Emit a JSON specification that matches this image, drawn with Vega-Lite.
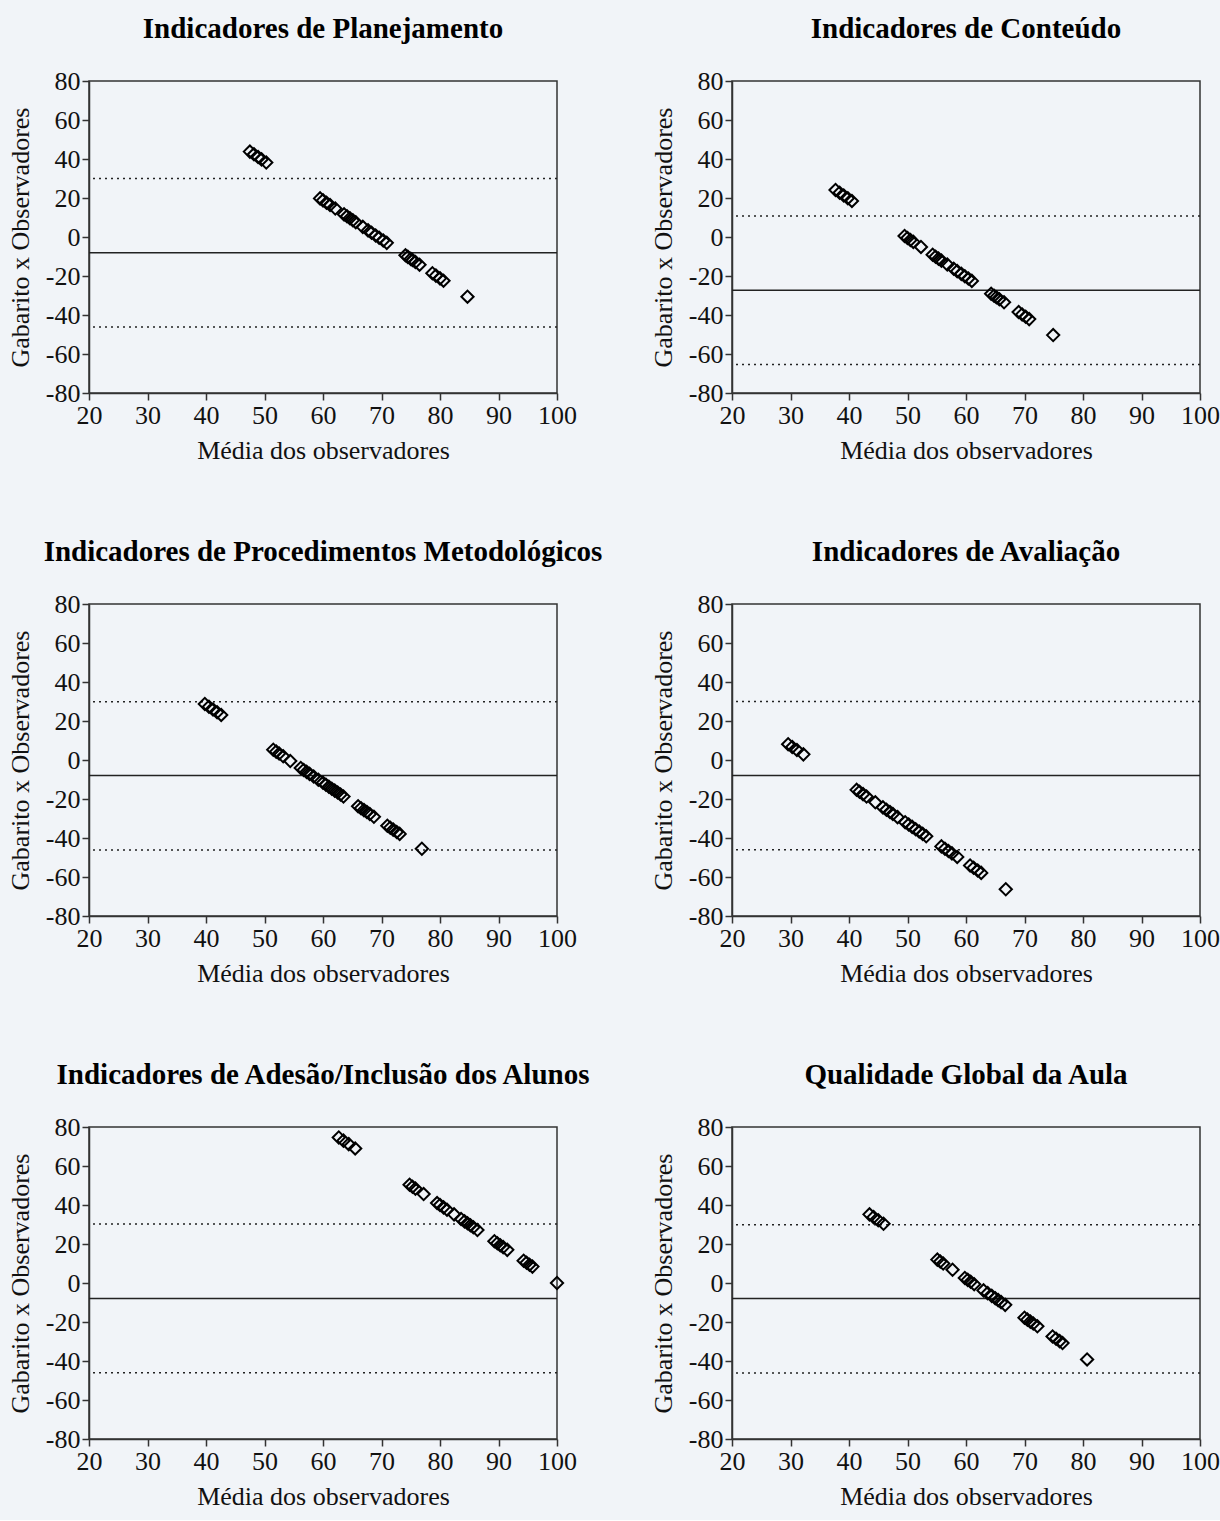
{
  "$schema": "https://vega.github.io/schema/vega-lite/v6.json",
  "background": "#f1f4f8",
  "padding": {"left": 6, "top": 14, "right": 2, "bottom": 10},
  "columns": 2,
  "spacing": {"row": 211, "column": 175},
  "bounds": "flush",
  "datasets": {
    "lines": [
      {"p": 1, "v": -8.1, "k": "media"}, {"p": 1, "v": 30.0, "k": "limite"}, {"p": 1, "v": -46.1, "k": "limite"},
      {"p": 2, "v": -27.3, "k": "media"}, {"p": 2, "v": 10.8, "k": "limite"}, {"p": 2, "v": -65.4, "k": "limite"},
      {"p": 3, "v": -8.0, "k": "media"}, {"p": 3, "v": 29.9, "k": "limite"}, {"p": 3, "v": -46.1, "k": "limite"},
      {"p": 4, "v": -7.9, "k": "media"}, {"p": 4, "v": 30.0, "k": "limite"}, {"p": 4, "v": -46.0, "k": "limite"},
      {"p": 5, "v": -8.0, "k": "media"}, {"p": 5, "v": 30.2, "k": "limite"}, {"p": 5, "v": -46.0, "k": "limite"},
      {"p": 6, "v": -8.0, "k": "media"}, {"p": 6, "v": 29.9, "k": "limite"}, {"p": 6, "v": -46.1, "k": "limite"}
    ],
    "pts": [
      {"p":1,"x":47.5,"y":43.8},{"p":1,"x":48.2,"y":42.4},{"p":1,"x":48.9,"y":41.0},{"p":1,"x":49.5,"y":39.8},{"p":1,"x":50.3,"y":38.2},
      {"p":1,"x":59.5,"y":19.8},{"p":1,"x":60.0,"y":18.8},{"p":1,"x":60.6,"y":17.6},{"p":1,"x":61.2,"y":16.4},{"p":1,"x":62.1,"y":14.6},
      {"p":1,"x":63.6,"y":11.6},{"p":1,"x":64.1,"y":10.6},{"p":1,"x":64.6,"y":9.6},{"p":1,"x":65.1,"y":8.6},{"p":1,"x":65.6,"y":7.6},{"p":1,"x":66.8,"y":5.2},
      {"p":1,"x":67.7,"y":3.4},{"p":1,"x":68.3,"y":2.2},{"p":1,"x":69.0,"y":0.8},{"p":1,"x":69.6,"y":-0.4},{"p":1,"x":70.3,"y":-1.8},{"p":1,"x":70.9,"y":-3.0},
      {"p":1,"x":74.1,"y":-9.4},{"p":1,"x":74.5,"y":-10.2},{"p":1,"x":75.0,"y":-11.2},{"p":1,"x":75.3,"y":-11.8},{"p":1,"x":75.8,"y":-12.8},{"p":1,"x":76.5,"y":-14.2},
      {"p":1,"x":78.7,"y":-18.6},{"p":1,"x":79.3,"y":-19.8},{"p":1,"x":80.0,"y":-21.2},{"p":1,"x":80.6,"y":-22.4},
      {"p":1,"x":84.7,"y":-30.6},

      {"p":2,"x":37.7,"y":24.1},{"p":2,"x":38.4,"y":22.7},{"p":2,"x":39.1,"y":21.3},{"p":2,"x":39.8,"y":19.9},{"p":2,"x":40.5,"y":18.5},
      {"p":2,"x":49.5,"y":0.5},{"p":2,"x":50.0,"y":-0.5},{"p":2,"x":50.5,"y":-1.5},{"p":2,"x":51.0,"y":-2.5},{"p":2,"x":52.3,"y":-5.1},
      {"p":2,"x":54.3,"y":-9.1},{"p":2,"x":54.8,"y":-10.1},{"p":2,"x":55.3,"y":-11.1},{"p":2,"x":55.8,"y":-12.1},{"p":2,"x":56.8,"y":-14.1},
      {"p":2,"x":57.9,"y":-16.3},{"p":2,"x":58.5,"y":-17.5},{"p":2,"x":59.2,"y":-18.9},{"p":2,"x":59.8,"y":-20.1},{"p":2,"x":60.4,"y":-21.3},{"p":2,"x":61.0,"y":-22.5},
      {"p":2,"x":64.3,"y":-29.1},{"p":2,"x":64.8,"y":-30.1},{"p":2,"x":65.2,"y":-30.9},{"p":2,"x":65.7,"y":-31.9},{"p":2,"x":66.5,"y":-33.5},
      {"p":2,"x":69.0,"y":-38.5},{"p":2,"x":69.6,"y":-39.7},{"p":2,"x":70.2,"y":-40.9},{"p":2,"x":70.8,"y":-42.1},
      {"p":2,"x":74.9,"y":-50.3},

      {"p":3,"x":39.8,"y":28.7},{"p":3,"x":40.5,"y":27.3},{"p":3,"x":41.2,"y":25.9},{"p":3,"x":41.9,"y":24.5},{"p":3,"x":42.6,"y":23.1},
      {"p":3,"x":51.5,"y":5.3},{"p":3,"x":52.0,"y":4.3},{"p":3,"x":52.5,"y":3.3},{"p":3,"x":53.2,"y":1.9},{"p":3,"x":54.4,"y":-0.5},
      {"p":3,"x":56.2,"y":-4.1},{"p":3,"x":56.7,"y":-5.1},{"p":3,"x":57.2,"y":-6.1},{"p":3,"x":57.7,"y":-7.1},{"p":3,"x":58.4,"y":-8.5},{"p":3,"x":59.2,"y":-10.1},
      {"p":3,"x":60.0,"y":-11.7},{"p":3,"x":60.5,"y":-12.7},{"p":3,"x":61.0,"y":-13.7},{"p":3,"x":61.5,"y":-14.7},{"p":3,"x":62.0,"y":-15.7},{"p":3,"x":62.5,"y":-16.7},{"p":3,"x":63.0,"y":-17.7},{"p":3,"x":63.5,"y":-18.7},
      {"p":3,"x":66.0,"y":-23.7},{"p":3,"x":66.5,"y":-24.7},{"p":3,"x":67.0,"y":-25.7},{"p":3,"x":67.5,"y":-26.7},{"p":3,"x":68.0,"y":-27.7},{"p":3,"x":68.7,"y":-29.1},
      {"p":3,"x":71.0,"y":-33.7},{"p":3,"x":71.5,"y":-34.7},{"p":3,"x":72.0,"y":-35.7},{"p":3,"x":72.6,"y":-36.9},{"p":3,"x":73.1,"y":-37.9},
      {"p":3,"x":76.9,"y":-45.5},

      {"p":4,"x":29.6,"y":8.1},{"p":4,"x":30.3,"y":6.7},{"p":4,"x":31.1,"y":5.1},{"p":4,"x":32.2,"y":2.9},
      {"p":4,"x":41.3,"y":-15.3},{"p":4,"x":41.8,"y":-16.3},{"p":4,"x":42.4,"y":-17.5},{"p":4,"x":43.0,"y":-18.7},{"p":4,"x":44.5,"y":-21.7},
      {"p":4,"x":45.8,"y":-24.3},{"p":4,"x":46.4,"y":-25.5},{"p":4,"x":47.0,"y":-26.7},{"p":4,"x":47.5,"y":-27.7},{"p":4,"x":48.3,"y":-29.3},
      {"p":4,"x":49.6,"y":-31.9},{"p":4,"x":50.2,"y":-33.1},{"p":4,"x":50.8,"y":-34.3},{"p":4,"x":51.4,"y":-35.5},{"p":4,"x":52.0,"y":-36.7},{"p":4,"x":52.6,"y":-37.9},{"p":4,"x":53.2,"y":-39.1},
      {"p":4,"x":55.8,"y":-44.3},{"p":4,"x":56.4,"y":-45.5},{"p":4,"x":57.0,"y":-46.7},{"p":4,"x":57.6,"y":-47.9},{"p":4,"x":58.5,"y":-49.7},
      {"p":4,"x":60.7,"y":-54.1},{"p":4,"x":61.3,"y":-55.3},{"p":4,"x":62.0,"y":-56.7},{"p":4,"x":62.6,"y":-57.9},
      {"p":4,"x":66.8,"y":-66.3},

      {"p":5,"x":62.7,"y":74.6},{"p":5,"x":63.5,"y":73.0},{"p":5,"x":64.4,"y":71.2},{"p":5,"x":65.5,"y":69.0},
      {"p":5,"x":74.8,"y":50.4},{"p":5,"x":75.3,"y":49.4},{"p":5,"x":75.8,"y":48.4},{"p":5,"x":77.2,"y":45.6},
      {"p":5,"x":79.5,"y":41.0},{"p":5,"x":80.0,"y":40.0},{"p":5,"x":80.6,"y":38.8},{"p":5,"x":81.2,"y":37.6},{"p":5,"x":82.4,"y":35.2},
      {"p":5,"x":83.6,"y":32.8},{"p":5,"x":84.2,"y":31.6},{"p":5,"x":84.7,"y":30.6},{"p":5,"x":85.2,"y":29.6},{"p":5,"x":85.7,"y":28.6},{"p":5,"x":86.4,"y":27.2},
      {"p":5,"x":89.3,"y":21.4},{"p":5,"x":89.8,"y":20.4},{"p":5,"x":90.3,"y":19.4},{"p":5,"x":90.8,"y":18.4},{"p":5,"x":91.5,"y":17.0},
      {"p":5,"x":94.3,"y":11.4},{"p":5,"x":94.8,"y":10.4},{"p":5,"x":95.3,"y":9.4},{"p":5,"x":95.8,"y":8.4},
      {"p":5,"x":100.0,"y":0.0},

      {"p":6,"x":43.5,"y":35.2},{"p":6,"x":44.2,"y":33.8},{"p":6,"x":45.0,"y":32.2},{"p":6,"x":45.9,"y":30.4},
      {"p":6,"x":55.1,"y":12.0},{"p":6,"x":55.6,"y":11.0},{"p":6,"x":56.1,"y":10.0},{"p":6,"x":57.7,"y":6.8},
      {"p":6,"x":59.8,"y":2.6},{"p":6,"x":60.3,"y":1.6},{"p":6,"x":60.8,"y":0.6},{"p":6,"x":61.4,"y":-0.6},
      {"p":6,"x":63.0,"y":-3.8},{"p":6,"x":63.7,"y":-5.2},{"p":6,"x":64.4,"y":-6.6},{"p":6,"x":65.0,"y":-7.8},{"p":6,"x":65.5,"y":-8.8},{"p":6,"x":66.0,"y":-9.8},{"p":6,"x":66.7,"y":-11.2},
      {"p":6,"x":70.0,"y":-17.8},{"p":6,"x":70.5,"y":-18.8},{"p":6,"x":71.0,"y":-19.8},{"p":6,"x":71.5,"y":-20.8},{"p":6,"x":72.2,"y":-22.2},
      {"p":6,"x":74.8,"y":-27.4},{"p":6,"x":75.4,"y":-28.6},{"p":6,"x":76.0,"y":-29.8},{"p":6,"x":76.5,"y":-30.8},
      {"p":6,"x":80.7,"y":-39.2}
    ]
  },
  "concat": [
    {"title": "Indicadores de Planejamento", "width": 468, "height": 312, "layer": [
      {"data": {"name": "lines"}, "transform": [{"filter": "datum.p == 1"}], "mark": {"type": "rule", "color": "#222", "strokeWidth": 1.5},
       "encoding": {"y": {"field": "v", "type": "quantitative", "title": "Gabarito x Observadores", "scale": {"domain": [-80, 80], "nice": false}, "axis": {"values": [-80,-60,-40,-20,0,20,40,60,80], "labelExpr": "toString(datum.value)"}},
        "strokeDash": {"field": "k", "type": "nominal", "scale": {"domain": ["media", "limite"], "range": [[1, 0], [2, 4]]}, "legend": null}}},
      {"data": {"name": "pts"}, "transform": [{"filter": "datum.p == 1"}], "mark": {"type": "point", "shape": "diamond", "filled": false, "color": "#000", "size": 150, "strokeWidth": 2, "opacity": 1},
       "encoding": {"x": {"field": "x", "type": "quantitative", "title": "Média dos observadores", "scale": {"domain": [20, 100], "nice": false}, "axis": {"values": [20,30,40,50,60,70,80,90,100]}},
        "y": {"field": "y", "type": "quantitative", "title": "Gabarito x Observadores", "scale": {"domain": [-80, 80], "nice": false}, "axis": {"values": [-80,-60,-40,-20,0,20,40,60,80], "labelExpr": "toString(datum.value)"}}}}
    ]},
    {"title": "Indicadores de Conteúdo", "width": 468, "height": 312, "layer": [
      {"data": {"name": "lines"}, "transform": [{"filter": "datum.p == 2"}], "mark": {"type": "rule", "color": "#222", "strokeWidth": 1.5},
       "encoding": {"y": {"field": "v", "type": "quantitative", "title": "Gabarito x Observadores", "scale": {"domain": [-80, 80], "nice": false}, "axis": {"values": [-80,-60,-40,-20,0,20,40,60,80], "labelExpr": "toString(datum.value)"}},
        "strokeDash": {"field": "k", "type": "nominal", "scale": {"domain": ["media", "limite"], "range": [[1, 0], [2, 4]]}, "legend": null}}},
      {"data": {"name": "pts"}, "transform": [{"filter": "datum.p == 2"}], "mark": {"type": "point", "shape": "diamond", "filled": false, "color": "#000", "size": 150, "strokeWidth": 2, "opacity": 1},
       "encoding": {"x": {"field": "x", "type": "quantitative", "title": "Média dos observadores", "scale": {"domain": [20, 100], "nice": false}, "axis": {"values": [20,30,40,50,60,70,80,90,100]}},
        "y": {"field": "y", "type": "quantitative", "title": "Gabarito x Observadores", "scale": {"domain": [-80, 80], "nice": false}, "axis": {"values": [-80,-60,-40,-20,0,20,40,60,80], "labelExpr": "toString(datum.value)"}}}}
    ]},
    {"title": "Indicadores de Procedimentos Metodológicos", "width": 468, "height": 312, "layer": [
      {"data": {"name": "lines"}, "transform": [{"filter": "datum.p == 3"}], "mark": {"type": "rule", "color": "#222", "strokeWidth": 1.5},
       "encoding": {"y": {"field": "v", "type": "quantitative", "title": "Gabarito x Observadores", "scale": {"domain": [-80, 80], "nice": false}, "axis": {"values": [-80,-60,-40,-20,0,20,40,60,80], "labelExpr": "toString(datum.value)"}},
        "strokeDash": {"field": "k", "type": "nominal", "scale": {"domain": ["media", "limite"], "range": [[1, 0], [2, 4]]}, "legend": null}}},
      {"data": {"name": "pts"}, "transform": [{"filter": "datum.p == 3"}], "mark": {"type": "point", "shape": "diamond", "filled": false, "color": "#000", "size": 150, "strokeWidth": 2, "opacity": 1},
       "encoding": {"x": {"field": "x", "type": "quantitative", "title": "Média dos observadores", "scale": {"domain": [20, 100], "nice": false}, "axis": {"values": [20,30,40,50,60,70,80,90,100]}},
        "y": {"field": "y", "type": "quantitative", "title": "Gabarito x Observadores", "scale": {"domain": [-80, 80], "nice": false}, "axis": {"values": [-80,-60,-40,-20,0,20,40,60,80], "labelExpr": "toString(datum.value)"}}}}
    ]},
    {"title": "Indicadores de Avaliação", "width": 468, "height": 312, "layer": [
      {"data": {"name": "lines"}, "transform": [{"filter": "datum.p == 4"}], "mark": {"type": "rule", "color": "#222", "strokeWidth": 1.5},
       "encoding": {"y": {"field": "v", "type": "quantitative", "title": "Gabarito x Observadores", "scale": {"domain": [-80, 80], "nice": false}, "axis": {"values": [-80,-60,-40,-20,0,20,40,60,80], "labelExpr": "toString(datum.value)"}},
        "strokeDash": {"field": "k", "type": "nominal", "scale": {"domain": ["media", "limite"], "range": [[1, 0], [2, 4]]}, "legend": null}}},
      {"data": {"name": "pts"}, "transform": [{"filter": "datum.p == 4"}], "mark": {"type": "point", "shape": "diamond", "filled": false, "color": "#000", "size": 150, "strokeWidth": 2, "opacity": 1},
       "encoding": {"x": {"field": "x", "type": "quantitative", "title": "Média dos observadores", "scale": {"domain": [20, 100], "nice": false}, "axis": {"values": [20,30,40,50,60,70,80,90,100]}},
        "y": {"field": "y", "type": "quantitative", "title": "Gabarito x Observadores", "scale": {"domain": [-80, 80], "nice": false}, "axis": {"values": [-80,-60,-40,-20,0,20,40,60,80], "labelExpr": "toString(datum.value)"}}}}
    ]},
    {"title": "Indicadores de Adesão/Inclusão dos Alunos", "width": 468, "height": 312, "layer": [
      {"data": {"name": "lines"}, "transform": [{"filter": "datum.p == 5"}], "mark": {"type": "rule", "color": "#222", "strokeWidth": 1.5},
       "encoding": {"y": {"field": "v", "type": "quantitative", "title": "Gabarito x Observadores", "scale": {"domain": [-80, 80], "nice": false}, "axis": {"values": [-80,-60,-40,-20,0,20,40,60,80], "labelExpr": "toString(datum.value)"}},
        "strokeDash": {"field": "k", "type": "nominal", "scale": {"domain": ["media", "limite"], "range": [[1, 0], [2, 4]]}, "legend": null}}},
      {"data": {"name": "pts"}, "transform": [{"filter": "datum.p == 5"}], "mark": {"type": "point", "shape": "diamond", "filled": false, "color": "#000", "size": 150, "strokeWidth": 2, "opacity": 1, "clip": false},
       "encoding": {"x": {"field": "x", "type": "quantitative", "title": "Média dos observadores", "scale": {"domain": [20, 100], "nice": false}, "axis": {"values": [20,30,40,50,60,70,80,90,100]}},
        "y": {"field": "y", "type": "quantitative", "title": "Gabarito x Observadores", "scale": {"domain": [-80, 80], "nice": false}, "axis": {"values": [-80,-60,-40,-20,0,20,40,60,80], "labelExpr": "toString(datum.value)"}}}}
    ]},
    {"title": "Qualidade Global da Aula", "width": 468, "height": 312, "layer": [
      {"data": {"name": "lines"}, "transform": [{"filter": "datum.p == 6"}], "mark": {"type": "rule", "color": "#222", "strokeWidth": 1.5},
       "encoding": {"y": {"field": "v", "type": "quantitative", "title": "Gabarito x Observadores", "scale": {"domain": [-80, 80], "nice": false}, "axis": {"values": [-80,-60,-40,-20,0,20,40,60,80], "labelExpr": "toString(datum.value)"}},
        "strokeDash": {"field": "k", "type": "nominal", "scale": {"domain": ["media", "limite"], "range": [[1, 0], [2, 4]]}, "legend": null}}},
      {"data": {"name": "pts"}, "transform": [{"filter": "datum.p == 6"}], "mark": {"type": "point", "shape": "diamond", "filled": false, "color": "#000", "size": 150, "strokeWidth": 2, "opacity": 1},
       "encoding": {"x": {"field": "x", "type": "quantitative", "title": "Média dos observadores", "scale": {"domain": [20, 100], "nice": false}, "axis": {"values": [20,30,40,50,60,70,80,90,100]}},
        "y": {"field": "y", "type": "quantitative", "title": "Gabarito x Observadores", "scale": {"domain": [-80, 80], "nice": false}, "axis": {"values": [-80,-60,-40,-20,0,20,40,60,80], "labelExpr": "toString(datum.value)"}}}}
    ]}
  ],
  "config": {
    "font": "Liberation Serif",
    "view": {"stroke": "#333", "strokeWidth": 1.5},
    "axis": {"domainColor": "#333", "domainWidth": 1.5, "tickColor": "#333", "tickWidth": 1.5, "tickSize": 7, "grid": false,
      "labelFont": "Liberation Serif", "labelFontSize": 26, "labelColor": "#111", "labelPadding": 2, "labelFlush": false,
      "titleFont": "Liberation Serif", "titleFontSize": 26, "titleFontWeight": "normal", "titleColor": "#111"},
    "axisX": {"titlePadding": 9, "labelFlush": false},
    "axisY": {"titlePadding": 12, "labelFlush": false},
    "title": {"font": "Liberation Serif", "fontSize": 29, "fontWeight": "bold", "color": "#000", "frame": "group", "anchor": "middle", "offset": 24}
  }
}
